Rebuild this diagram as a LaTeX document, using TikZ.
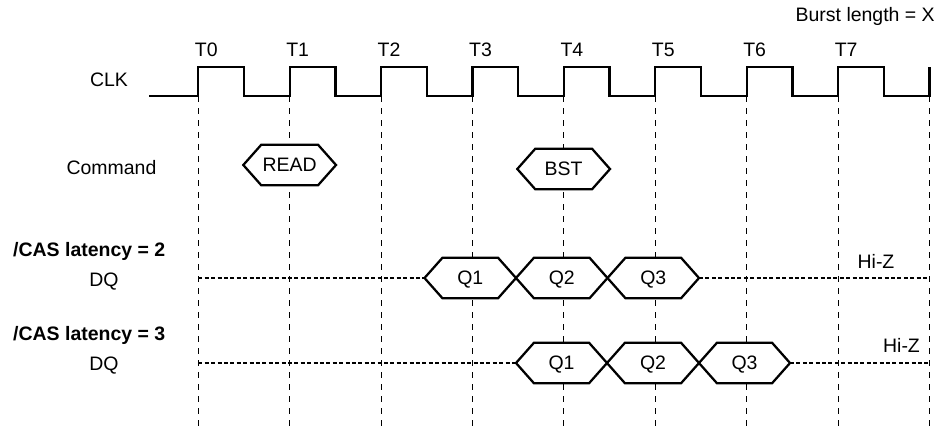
\documentclass[tikz,border=0pt]{standalone}
\usepackage{fontspec}
\setmainfont{Liberation Sans}
\begin{document}
\begin{tikzpicture}[x=0.75pt,y=-0.75pt,
    every node/.style={font=\fontsize{14.6}{17}\selectfont, inner sep=0pt, text depth=0pt},
    wave/.style={line width=1.7pt, line join=miter},
    tick/.style={line width=0.7pt, dash pattern=on 4.8pt off 4.2pt},
    hiz/.style={line width=1.5pt, dash pattern=on 3pt off 1.8pt}]

  \useasboundingbox (0,0) rectangle (942,429);

  % clock edges
  \foreach \k in {0,...,8}
    \draw[tick] ({198.3+91.4*\k},96) -- ({198.3+91.4*\k},427);

  \draw[wave] (149,96) foreach \k in {0,...,7} {
      -- ({198.3+91.4*\k},96) -- ({198.3+91.4*\k},67)
      -- ({244+91.4*\k},67) -- ({244+91.4*\k},96) }
    -- (929.5,96) -- (929.5,67);

  \foreach \k in {0,...,7}
    \node (t\k) at ({206.3+91.4*\k},49.5) {T\k};

  % labels
  \node (clk) at (109,80) {CLK};
  \node (cmd) at (111.5,167) {Command};
  \node[font=\fontsize{14.6}{17}\selectfont\bfseries] (cas2) at (89.2,249.5) {/CAS latency = 2};
  \node (dq2) at (104,280) {DQ};
  \node[font=\fontsize{14.6}{17}\selectfont\bfseries] (cas3) at (89.2,333) {/CAS latency = 3};
  \node (dq3) at (104,364) {DQ};
  \node (hiz2) at (876,261) {Hi-Z};
  \node (hiz3) at (901.5,345) {Hi-Z};
  \node[anchor=east] (bl) at (935,14) {Burst length = X};

  % high impedance
  \draw[hiz] (198.3,278) -- (424.5,278);
  \draw[hiz] (699,278) -- (929.5,278);
  \draw[hiz] (198.3,363) -- (516,363);
  \draw[hiz] (790,363) -- (929.5,363);

  % bus boxes
  \foreach \l/\r/\y/\txt/\nm in {243.3/336/165/READ/read, 517.3/610/169/BST/bst,
      424.5/516/278/Q1/qa, 516/607.5/278/Q2/qb, 607.5/699/278/Q3/qc,
      516/607/363/Q1/qd, 607/699/363/Q2/qe, 699/790/363/Q3/qf}
  {
    \draw[wave, fill=white] (\l,\y) -- ({\l+18},{\y-20.3}) -- ({\r-18},{\y-20.3})
      -- (\r,\y) -- ({\r-18},{\y+20.3}) -- ({\l+18},{\y+20.3}) -- cycle;
    \node (\nm) at ({(\l+\r)/2},\y) {\txt};
  }

\end{tikzpicture}
\end{document}
